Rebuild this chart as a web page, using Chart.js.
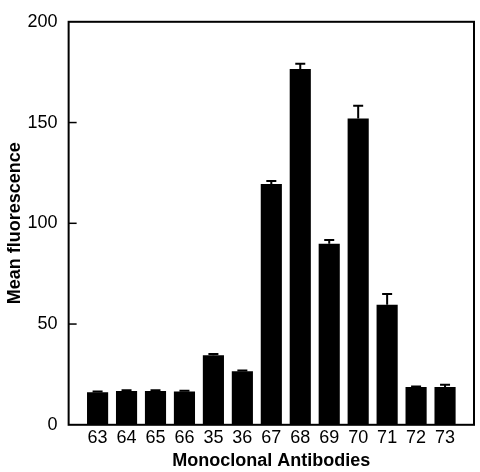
<!DOCTYPE html>
<html>
<head>
<meta charset="utf-8">
<script src="https://cdn.jsdelivr.net/npm/chart.js@4.4.0/dist/chart.umd.min.js"></script>
<style>
  html, body { margin: 0; padding: 0; background: #fff; }
  #wrap { width: 480px; height: 472px; }
</style>
</head>
<body>
<div id="wrap"><canvas id="chart" width="480" height="472"></canvas></div>
<script>
// Monoclonal antibody IDs and mean fluorescence
const antibodies = ['63', '64', '65', '66', '35', '36', '67', '68', '69', '70', '71', '72', '73'];
const meanFluor = [16.2, 16.8, 16.8, 16.5, 34.5, 26.6, 119.5, 176.6, 89.9, 152, 59.6, 18.8, 18.7];
const errors = [0.3, 0.3, 0.3, 0.4, 0.6, 0.4, 1.5, 2.6, 1.8, 6.3, 5.3, 0.2, 1.2];
const yTicks = [0, 50, 100, 150, 200];

// empty slots at each end give the gap between axis and first/last bar
const labels = ['', ...antibodies, ''];
const values = [null, ...meanFluor, null];
const errs = [null, ...errors, null];

const FONT = '"Liberation Sans", Arial, Helvetica, sans-serif';

// frame, inward y ticks and error bars
const framePlugin = {
  id: 'frame',
  afterDatasetsDraw(chart) {
    const { ctx, chartArea: a, scales } = chart;
    ctx.save();
    ctx.strokeStyle = '#000';
    ctx.lineWidth = 2;
    ctx.strokeRect(a.left, a.top, a.right - a.left, a.bottom - a.top);

    ctx.lineWidth = 1.5;
    yTicks.forEach(v => {
      if (v === 0 || v === 200) return;
      const y = scales.y.getPixelForValue(v);
      ctx.beginPath();
      ctx.moveTo(a.left, y);
      ctx.lineTo(a.left + 8, y);
      ctx.stroke();
    });

    ctx.lineWidth = 2;
    const meta = chart.getDatasetMeta(0);
    meta.data.forEach((bar, i) => {
      const e = errs[i];
      if (values[i] == null || !e) return;
      const yTop = scales.y.getPixelForValue(values[i] + e);
      ctx.beginPath();
      ctx.moveTo(bar.x, bar.y);
      ctx.lineTo(bar.x, yTop);
      ctx.moveTo(bar.x - 5, yTop);
      ctx.lineTo(bar.x + 5, yTop);
      ctx.stroke();
    });
    ctx.restore();
  }
};

new Chart(document.getElementById('chart').getContext('2d'), {
  type: 'bar',
  data: {
    labels: labels,
    datasets: [{
      data: values,
      backgroundColor: '#000',
      borderWidth: 0,
      barPercentage: 0.73,
      categoryPercentage: 1
    }]
  },
  options: {
    responsive: false,
    animation: false,
    devicePixelRatio: 1,
    layout: { padding: { top: 7, right: 6, left: 3, bottom: 0 } },
    plugins: { legend: { display: false }, tooltip: { enabled: false } },
    scales: {
      x: {
        offset: false,
        grid: { display: false, drawTicks: false },
        border: { display: false },
        ticks: {
          color: '#000',
          font: { family: FONT, size: 18 },
          padding: 2,
          maxRotation: 0,
          autoSkip: false
        },
        title: {
          display: true,
          text: 'Monoclonal Antibodies',
          color: '#000',
          font: { family: FONT, size: 18, weight: 'bold' },
          padding: { top: 0, bottom: 0 }
        }
      },
      y: {
        min: 0,
        max: 200,
        afterBuildTicks: axis => { axis.ticks = yTicks.map(v => ({ value: v })); },
        grid: { display: false, drawTicks: false },
        border: { display: false },
        ticks: {
          color: '#000',
          font: { family: FONT, size: 18 },
          padding: 11
        },
        title: {
          display: true,
          text: 'Mean fluorescence',
          color: '#000',
          font: { family: FONT, size: 18, weight: 'bold' },
          padding: { top: 1, bottom: -9 }
        }
      }
    }
  },
  plugins: [framePlugin]
});
</script>
</body>
</html>
